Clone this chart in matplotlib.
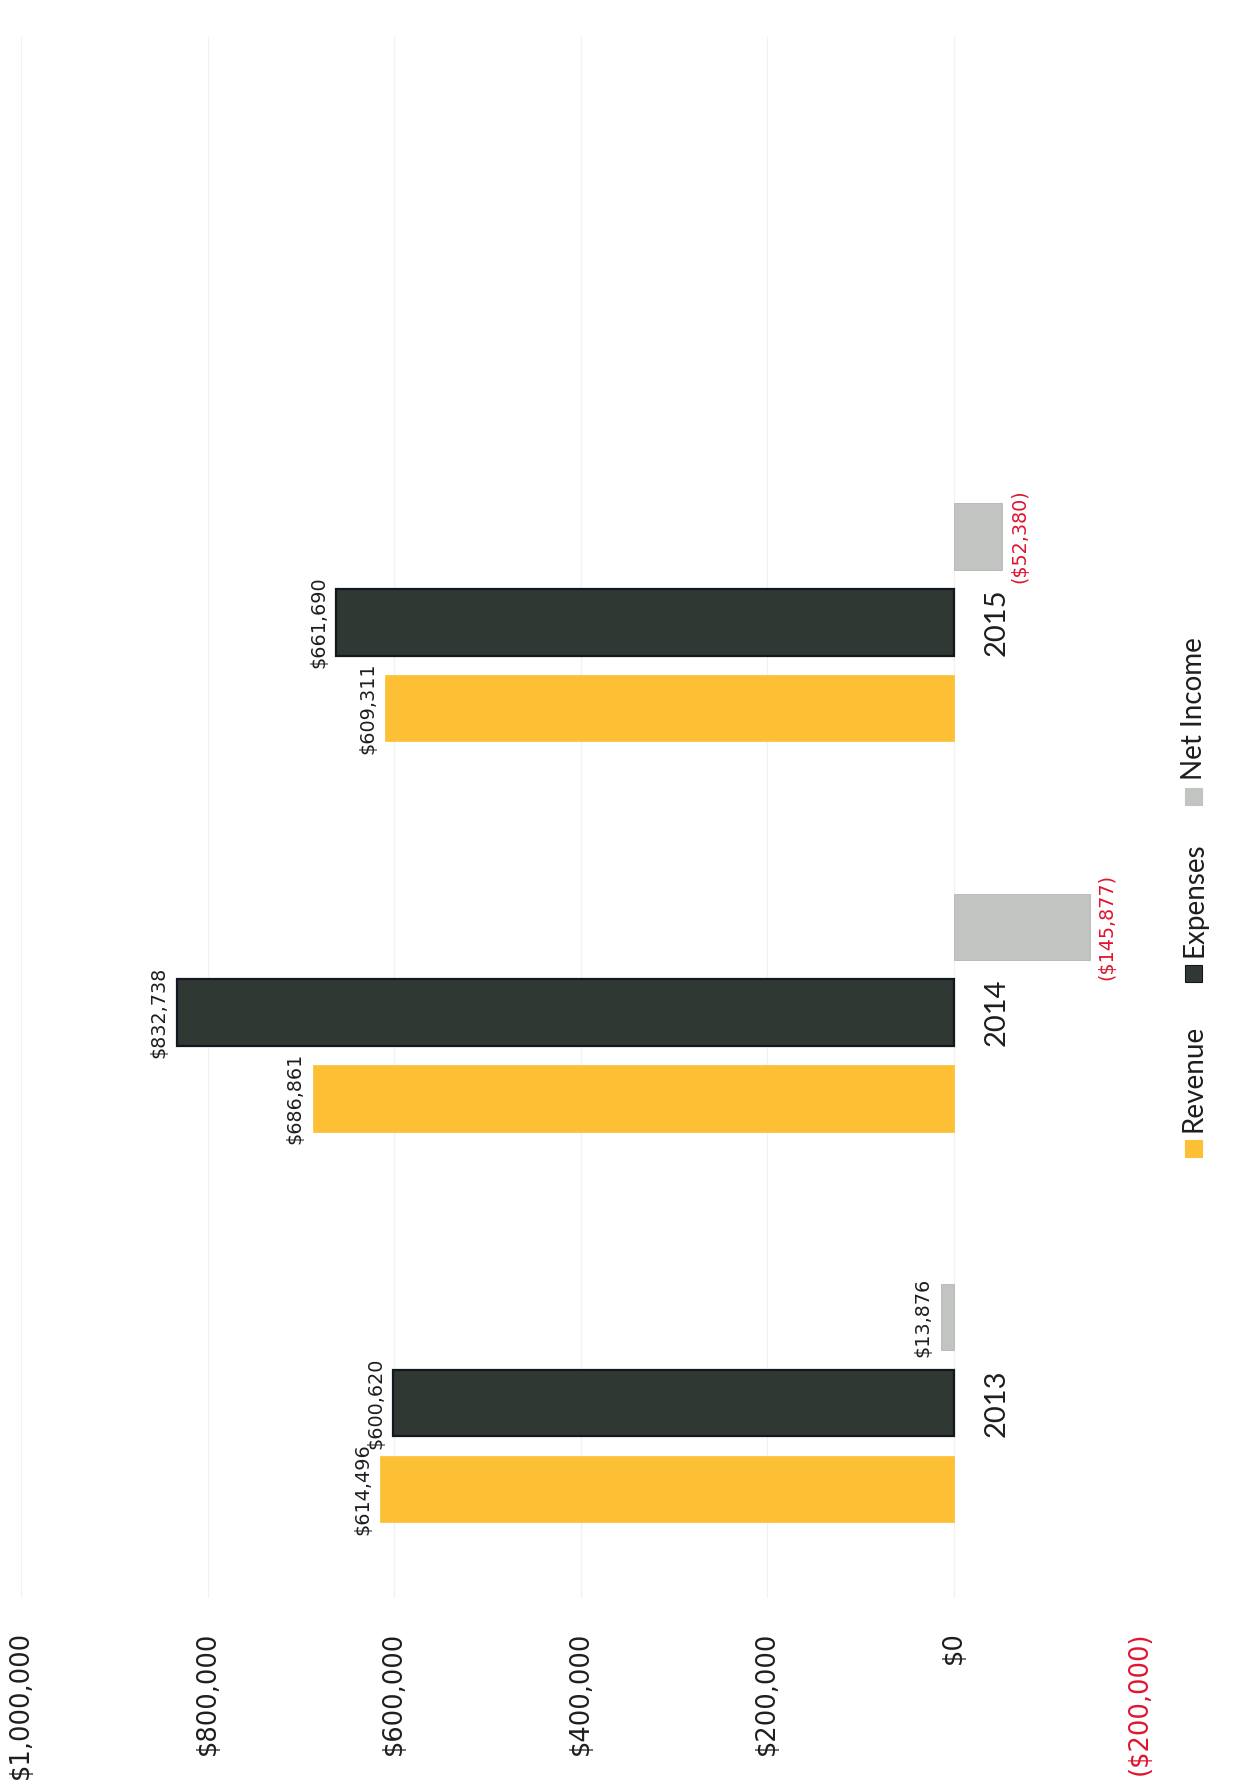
import matplotlib
matplotlib.use('Agg')
import matplotlib.pyplot as plt
from matplotlib.patches import Rectangle
import numpy as np

# ---------------- data ----------------
years = ['2013', '2014', '2015']
series_names = ['Revenue', 'Expenses', 'Net Income']
revenue = [614496, 686861, 609311]
expenses = [600620, 832738, 661690]
net_income = [13876, -145877, -52380]
tick_values = [-200000, 0, 200000, 400000, 600000, 800000, 1000000]
tick_labels = ['($200,000)', '$0', '$200,000', '$400,000', '$600,000', '$800,000', '$1,000,000']

# ---------------- style ----------------
W, H = 1236, 1792
RED = '#E0152F'
TXT = '#1E1E1E'
colors = ['#FDBF34', '#2F3832', '#C2C4C2']
edges = ['#FDBF34', '#141722', '#B3B5B3']
lws = [0.5, 1.6, 0.6]
cat_font = ['Lato', 'DejaVu Sans']

fig = plt.figure(figsize=(W / 100, H / 100), dpi=100)
fig.patch.set_facecolor('white')
ax = fig.add_axes([21 / W, 1 - 1598 / H, (1140 - 21) / W, (1598 - 37) / H])
ax.set_xlim(1000000, -200000)
ax.set_ylim(-0.5, 3.5)

pos = np.arange(len(years))
off = 0.22
bh = 0.17


def fmt(v):
    return f'${v:,.0f}' if v >= 0 else f'(${-v:,.0f})'


for i, vals in enumerate([revenue, expenses, net_income]):
    ypos = pos + (i - 1) * off
    ax.barh(ypos, vals, height=bh, color=colors[i], edgecolor=edges[i],
            linewidth=lws[i], zorder=3)
    for p, v in zip(ypos, vals):
        if v >= 0:
            xt, ha, col = (-6, 0), 'right', TXT
        else:
            xt, ha, col = (6, 0), 'left', RED
        ax.annotate(fmt(v), xy=(v, p), xytext=xt, textcoords='offset points',
                    rotation=90, ha=ha, va='center', fontsize=13.8,
                    color=col, family='DejaVu Sans', zorder=4)

# value axis (shown at the bottom, rotated)
ax.set_xticks(tick_values, tick_labels)
ax.tick_params(axis='x', length=0, pad=24, labelrotation=90, labelsize=18.5,
               labelcolor=TXT)
for lab, v in zip(ax.get_xticklabels(), tick_values):
    lab.set_va('top')
    lab.set_ha('center')
    if v < 0:
        lab.set_color(RED)

# category axis positioned at value 0
ax.spines['right'].set_position(('data', 0))
ax.yaxis.tick_right()
ax.set_yticks(pos, years)
ax.tick_params(axis='y', length=0, pad=22, labelrotation=90, labelsize=21,
               labelcolor=TXT)
for lab in ax.yaxis.get_ticklabels():
    lab.set_va('center')
    lab.set_ha('left')
    lab.set_family(cat_font)

for s in ax.spines.values():
    s.set_visible(False)

ax.grid(axis='x', color='#F1F1F1', linewidth=0.9, zorder=0)
ax.set_axisbelow(True)

# ---------------- rotated legend (drawn manually) ----------------
def fx(x):
    return x / W


def fy(y):
    return 1 - y / H


leg_y = [1157, 982, 805]   # bottom of each legend square (pixels from top)
sq = 17
for name, col, y0 in zip(series_names, colors, leg_y):
    fig.patches.append(Rectangle((fx(1185), fy(y0)), sq / W, sq / H,
                                 transform=fig.transFigure, facecolor=col,
                                 edgecolor=col if col != colors[1] else '#141722',
                                 linewidth=0.8))
    fig.text(fx(1194), fy(y0 - sq - 8), name, rotation=90, ha='center',
             va='bottom', fontsize=20, color=TXT, family=cat_font)

fig.savefig('out.png', dpi=100, facecolor='white')
